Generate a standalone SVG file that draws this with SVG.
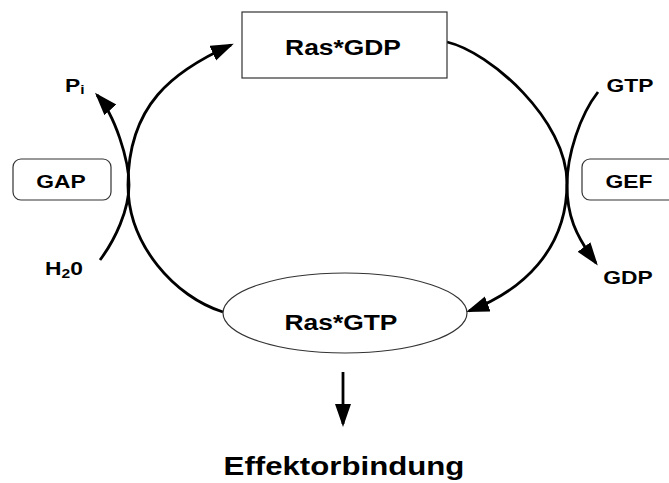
<svg xmlns="http://www.w3.org/2000/svg" width="669" height="483" viewBox="0 0 669 483">
  <defs>
    <style>
      .lbl { font-family: "Liberation Sans", Arial, sans-serif; font-weight: bold; fill: #000; }
      .mid { text-anchor: middle; }
      .node { fill: #fff; stroke: #333; stroke-width: 1.2; }
      .conn { fill: none; stroke: #000; stroke-width: 2.8; }
    </style>
    <marker id="arrow" markerUnits="userSpaceOnUse" markerWidth="24" markerHeight="18" refX="20" refY="8" orient="auto">
      <path d="M0,0 L23,8 L0,16 z" fill="#000"/>
    </marker>
  </defs>

  <rect width="669" height="483" fill="#fff"/>

  <!-- cycle and side reactions -->
  <g id="connectors">
    <!-- Ras*GTP -> Ras*GDP (hydrolysis, left) -->
    <path class="conn" d="M223,312 C175,297 128,245 128,185 C128,105 173,71 231,45" marker-end="url(#arrow)"/>
    <!-- Ras*GDP -> Ras*GTP (exchange, right) -->
    <path class="conn" d="M447,42 C490,52 567,120 567,183 C567,250 522,291 469,311" marker-end="url(#arrow)"/>
    <!-- H2O -> Pi -->
    <path class="conn" d="M100,260 C115,240 129,210 129,185 C129,160 115,115 97,95" marker-end="url(#arrow)"/>
    <!-- GTP -> GDP -->
    <path class="conn" d="M598,92 C580,115 567,155 567,185 C567,215 575,235 596,263" marker-end="url(#arrow)"/>
    <!-- Ras*GTP -> effector binding -->
    <path class="conn" d="M343,372 L343,424" marker-end="url(#arrow)"/>
  </g>

  <g id="node-ras-gdp">
    <rect class="node" x="242" y="12" width="205" height="66"/>
    <text class="lbl mid" font-size="22" transform="translate(343,55) scale(1.2,1)">Ras*GDP</text>
  </g>

  <g id="node-ras-gtp">
    <ellipse class="node" cx="345" cy="313" rx="122" ry="40"/>
    <text class="lbl mid" font-size="22" transform="translate(341,330) scale(1.2,1)">Ras*GTP</text>
  </g>

  <g id="node-gap">
    <rect class="node" x="13" y="159" width="98" height="41" rx="8"/>
    <text class="lbl mid" font-size="19" transform="translate(61,188) scale(1.2,1)">GAP</text>
  </g>

  <g id="node-gef">
    <rect class="node" x="582" y="159" width="100" height="41" rx="8"/>
    <text class="lbl mid" font-size="19" transform="translate(629,188) scale(1.2,1)">GEF</text>
  </g>

  <g id="label-pi">
    <text class="lbl" font-size="19" transform="translate(65,92) scale(1.2,1)">P<tspan font-size="13" dy="2">i</tspan></text>
  </g>

  <g id="label-h2o">
    <text class="lbl" font-size="19" transform="translate(45,275) scale(1.2,1)">H<tspan font-size="13" dy="3">2</tspan><tspan dy="-3">0</tspan></text>
  </g>

  <g id="label-gtp">
    <text class="lbl mid" font-size="19" transform="translate(630,92) scale(1.2,1)">GTP</text>
  </g>

  <g id="label-gdp">
    <text class="lbl mid" font-size="19" transform="translate(628,284) scale(1.2,1)">GDP</text>
  </g>

  <g id="label-effector">
    <text class="lbl mid" font-size="26" transform="translate(344,475) scale(1.2,1)">Effektorbindung</text>
  </g>
</svg>
